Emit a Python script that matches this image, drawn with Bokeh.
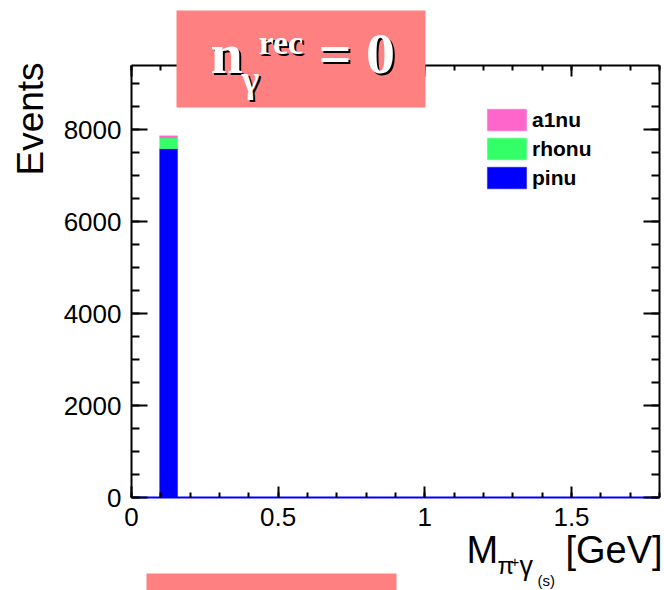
import math

from bokeh.plotting import figure
from bokeh.models import (ColumnDataSource, LinearAxis, SingleIntervalTicker, Range1d,
                          Legend, LegendItem, Label, BoxAnnotation,
                          CustomJSTickFormatter)
from bokeh.embed import file_html
from bokeh.resources import INLINE

# ---- histogram content (single filled bin, stacked by decay channel) ----
bin_low = [0.096]
bin_high = [0.157]
pinu = [7590]
rhonu = [235]
a1nu = [45]

channels = ["pinu", "rhonu", "a1nu"]
channel_colors = ["#0000FF", "#33FF66", "#FF66CC"]

# axis limits and tick spacing
x_lo, x_hi = 0.0, 1.8
y_lo, y_hi = 0.0, 9400.0
x_major_step = 0.5
y_major_step = 2000

FONT = "Liberation Sans"
SERIF = "Liberation Serif"
SALMON = "#FF8080"

W, H = 664, 590
FL, FR, FT, FB = 131, 659, 65, 497   # pixel edges of the histogram box

# The plotting area spans the whole canvas; ranges are widened so that the
# histogram box lands on the pixel edges above and the margins hold the texts.
sx = (FR - FL) / (x_hi - x_lo)
sy = (FB - FT) / (y_hi - y_lo)
x_range = Range1d(x_lo - FL / sx, x_hi + (W - FR) / sx)
y_range = Range1d(y_lo - (H - FB) / sy, y_hi + FT / sy)

src = ColumnDataSource(dict(
    xc=[(a + b) / 2 for a, b in zip(bin_low, bin_high)],
    w=[b - a for a, b in zip(bin_low, bin_high)],
    pinu=pinu, rhonu=rhonu, a1nu=a1nu,
))

p = figure(width=W, height=H, x_range=x_range, y_range=y_range,
           output_backend="svg", toolbar_location=None,
           x_axis_location=None, y_axis_location=None,
           min_border=0)
p.grid.visible = False
p.outline_line_color = None
p.background_fill_color = "white"
p.border_fill_color = "white"

bars = p.vbar_stack(channels, x="xc", width="w", source=src,
                    fill_color=channel_colors, line_color=channel_colors,
                    line_alpha=0.4)


def make_axis(step, minor_count, major, minor, bounds, loc, labelled=True):
    ax = LinearAxis(ticker=SingleIntervalTicker(interval=step, num_minor_ticks=minor_count),
                    bounds=bounds, fixed_location=loc,
                    major_tick_in=major, major_tick_out=0,
                    minor_tick_in=minor, minor_tick_out=0,
                    axis_line_width=2, major_tick_line_width=2, minor_tick_line_width=2,
                    axis_line_color="black", major_tick_line_color="black",
                    minor_tick_line_color="black")
    if labelled:
        ax.major_label_text_font = FONT
        ax.major_label_text_font_size = "26px"
        ax.major_label_text_color = "black"
    else:
        ax.formatter = CustomJSTickFormatter(code="return ''")
        ax.major_label_text_font_size = "1px"
        ax.major_label_standoff = 0
    return ax


bottom = make_axis(x_major_step, 5, 11, 5, (x_lo, x_hi), y_lo)
bottom.formatter = CustomJSTickFormatter(code="return String(Math.round(tick*10)/10)")
bottom.major_label_standoff = 10
bottom.axis_line_color = "#0000FF"   # histogram baseline drawn over the axis
p.add_layout(bottom, "below")

left = make_axis(y_major_step, 4, 16, 8, (y_lo, y_hi), x_lo)
left.major_label_standoff = 10
p.add_layout(left, "left")

top = make_axis(x_major_step, 5, 11, 5, (x_lo, x_hi), y_hi, labelled=False)
p.add_layout(top, "above")

right = make_axis(y_major_step, 4, 16, 8, (y_lo, y_hi), x_hi, labelled=False)
p.add_layout(right, "right")

# ---- legend (area glyphs are inset by 10% of the glyph box) ----
gw, gh = 49, 27
legend = Legend(items=[LegendItem(label=n, renderers=[r])
                       for n, r in reversed(list(zip(channels, bars)))],
                location=(482, H - 191),
                border_line_color=None, background_fill_alpha=0,
                padding=0, margin=0, spacing=2,
                glyph_width=gw, glyph_height=gh, label_height=gh,
                label_standoff=1, label_text_font=FONT, label_text_color="black",
                label_text_font_style="bold", label_text_font_size="21px",
                label_text_baseline="middle")
p.add_layout(legend)


# ---- free text and decorations, placed in canvas pixels ----
def text(t, cx, cy, size, color="black", font=FONT, style="normal", angle=0.0):
    """Place text so that its baseline starts at canvas pixel (cx, cy)."""
    k = 0.345 * size   # distance from baseline up to the middle of the em box
    ax = cx - math.sin(angle) * k
    ay = cy - math.cos(angle) * k
    p.add_layout(Label(x=ax, y=H - ay, x_units="screen", y_units="screen",
                       text=t, text_font=font, text_font_size=f"{size}px",
                       text_font_style=style, text_color=color,
                       text_align="left", text_baseline="middle", angle=angle))


def box(l, r, t, b):
    p.add_layout(BoxAnnotation(left=l, right=r, top=H - t, bottom=H - b,
                               left_units="screen", right_units="screen",
                               top_units="screen", bottom_units="screen",
                               fill_color=SALMON, fill_alpha=1.0, line_color=None))


# y axis title
text("Events", 43, 175, 37, angle=math.pi / 2)

# x axis title: M_{pi+ gamma_(s)} [GeV]
text("M", 466, 563, 38)
text("π", 497, 573, 24)
text("+", 510, 567, 15)
text("γ", 519, 575, 27)
text("(s)", 537, 585, 15)
text("[GeV]", 565, 563, 38)

# title box
box(176, 425, 10, 107)


def shadow_text(t, cx, cy, size):
    text(t, cx + 2, cy + 2, size, color="black", font=SERIF, style="bold")
    text(t, cx, cy, size, color="white", font=SERIF, style="bold")


shadow_text("n", 210, 73, 58)
shadow_text("γ", 241, 92, 38)
shadow_text("rec", 258, 54, 34)
shadow_text("= 0", 318, 73, 58)

# footer band
box(146, 396, 573, H)

open("out.html", "w").write(file_html(p, INLINE))
